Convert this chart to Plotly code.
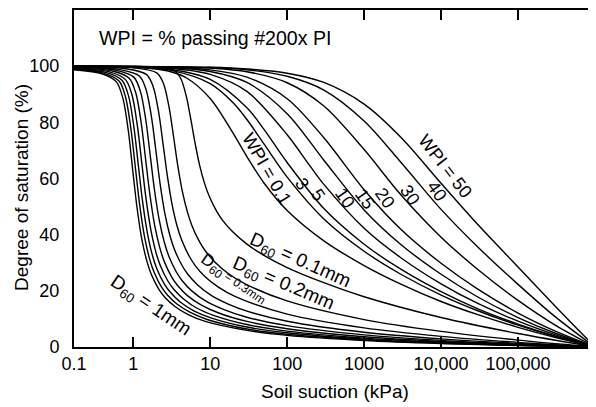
import plotly.graph_objects as go

FONT = "Liberation Sans, Arial, Helvetica, sans-serif"

# ---------------- coarse-grained soils (WPI = 0), by D60 ----------------
d60_1_0_suction = [0.17, 0.4, 0.604, 0.733, 0.863, 0.992, 1.122, 1.294, 1.510, 1.725, 2.157, 2.588, 3.451, 5.176, 8.627, 30, 100, 1000, 1e4, 1e5, 1e6]
d60_1_0_sat = [98.7, 97.2, 94.4, 88.6, 77.0, 62.2, 49.5, 38.3, 30.4, 25.7, 20.5, 17.6, 14.5, 11.5, 9.1, 5.9, 4.15, 2.3, 1.23, 0.52, 0]

d60_0_9_suction = [0.17, 0.4, 0.654, 0.794, 0.934, 1.074, 1.214, 1.401, 1.634, 1.867, 2.334, 2.801, 3.735, 5.602, 9.337, 30, 100, 1000, 1e4, 1e5, 1e6]
d60_0_9_sat = [98.9, 97.6, 94.7, 89.0, 77.6, 63.1, 50.5, 39.3, 31.3, 26.6, 21.3, 18.4, 15.2, 12.2, 9.7, 6.4, 4.56, 2.53, 1.36, 0.57, 0]

d60_0_8_suction = [0.17, 0.45, 0.714, 0.867, 1.020, 1.173, 1.326, 1.530, 1.785, 2.040, 2.550, 3.060, 4.080, 6.121, 10.20, 30, 100, 1000, 1e4, 1e5, 1e6]
d60_0_8_sat = [99.1, 97.7, 95.0, 89.5, 78.3, 64.0, 51.6, 40.5, 32.4, 27.7, 22.3, 19.4, 16.0, 12.9, 10.4, 7.1, 5.05, 2.81, 1.52, 0.64, 0]

d60_0_7_suction = [0.17, 0.5, 0.789, 0.959, 1.128, 1.297, 1.466, 1.692, 1.973, 2.255, 2.819, 3.383, 4.511, 6.766, 11.28, 30, 100, 1000, 1e4, 1e5, 1e6]
d60_0_7_sat = [99.2, 97.9, 95.3, 90.0, 79.1, 65.1, 52.8, 41.8, 33.7, 28.9, 23.5, 20.5, 17.1, 13.8, 11.2, 8.0, 5.67, 3.17, 1.72, 0.73, 0]

d60_0_6_suction = [0.17, 0.55, 0.886, 1.076, 1.266, 1.456, 1.646, 1.899, 2.216, 2.532, 3.165, 3.798, 5.064, 7.597, 12.66, 30, 100, 1000, 1e4, 1e5, 1e6]
d60_0_6_sat = [99.4, 98.2, 95.7, 90.6, 80.0, 66.3, 54.3, 43.3, 35.3, 30.4, 24.9, 21.8, 18.3, 15.0, 12.2, 9.1, 6.49, 3.65, 1.99, 0.85, 0]

d60_0_5_suction = [0.17, 0.6, 1.016, 1.234, 1.452, 1.670, 1.887, 2.178, 2.541, 2.904, 3.630, 4.356, 5.808, 8.711, 14.52, 30, 100, 1000, 1e4, 1e5, 1e6]
d60_0_5_sat = [99.6, 98.5, 96.1, 91.2, 81.1, 67.8, 56.0, 45.2, 37.2, 32.3, 26.7, 23.5, 19.9, 16.4, 13.5, 10.6, 7.59, 4.30, 2.36, 1.01, 0]

d60_0_4_suction = [0.17, 0.7, 1.202, 1.459, 1.717, 1.974, 2.232, 2.575, 3.004, 3.434, 4.292, 5.150, 6.867, 10.30, 17.17, 30, 100, 1000, 1e4, 1e5, 1e6]
d60_0_4_sat = [99.7, 98.7, 96.5, 91.9, 82.3, 69.7, 58.2, 47.6, 39.6, 34.7, 29.1, 25.8, 22.1, 18.4, 15.3, 12.8, 9.19, 5.26, 2.91, 1.26, 0]

d60_0_3_suction = [0.17, 0.8, 1.492, 1.811, 2.131, 2.450, 2.770, 3.196, 3.729, 4.262, 5.327, 6.392, 8.523, 12.78, 21.31, 100, 1000, 1e4, 1e5, 1e6]
d60_0_3_sat = [99.8, 99.1, 97.0, 92.8, 83.9, 72.0, 61.1, 50.8, 42.9, 38.1, 32.4, 29.0, 25.1, 21.3, 17.9, 11.7, 6.80, 3.80, 1.66, 0]

d60_0_2_suction = [0.17, 1.0, 2.022, 2.456, 2.889, 3.323, 3.756, 4.334, 5.056, 5.778, 7.223, 8.668, 11.56, 17.34, 28.89, 100, 1000, 1e4, 1e5, 1e6]
d60_0_2_sat = [99.9, 99.4, 97.6, 94.0, 86.1, 75.4, 65.3, 55.6, 48.1, 43.3, 37.6, 34.2, 30.2, 26.1, 22.4, 16.4, 9.76, 5.55, 2.46, 0]

d60_0_1_suction = [0.17, 1.5, 3.403, 4.133, 4.862, 5.591, 6.321, 7.293, 8.509, 9.724, 12.16, 14.59, 19.45, 29.17, 48.62, 100, 300, 1000, 1e4, 1e5, 1e6]
d60_0_1_sat = [100, 99.7, 98.4, 95.7, 89.6, 81.2, 73.0, 64.7, 58.0, 53.7, 48.3, 45.0, 41.1, 36.9, 32.8, 28.3, 22.9, 17.9, 10.5, 4.79, 0]

# ---------------- plastic soils, by WPI ----------------
wpi_0_1_suction = [0.17, 1, 3, 5, 10, 20, 30, 50, 100, 300, 1000, 3000, 1e4, 3e4, 1e5, 3e5, 1e6]
wpi_0_1_sat = [100, 99.7, 98.1, 95.7, 88.5, 76.0, 67.8, 58.4, 48.6, 37.8, 29.0, 22.4, 16.2, 11.5, 7.0, 3.46, 0]

wpi_3_suction = [0.17, 1, 3, 10, 20, 30, 50, 100, 300, 1000, 3000, 1e4, 3e4, 1e5, 3e5, 1e6]
wpi_3_sat = [100, 99.7, 98.6, 93.8, 86.9, 81.0, 72.3, 60.5, 45.6, 34.1, 25.9, 18.5, 12.9, 7.77, 3.79, 0]

wpi_5_suction = [0.17, 1, 3, 10, 30, 50, 100, 300, 1000, 3000, 1e4, 3e4, 1e5, 3e5, 1e6]
wpi_5_sat = [100, 99.7, 98.9, 95.3, 85.2, 77.5, 65.7, 49.3, 36.6, 27.7, 19.7, 13.6, 8.17, 3.96, 0]

wpi_10_suction = [0.17, 1, 3, 10, 30, 100, 200, 300, 1000, 3000, 1e4, 3e4, 1e5, 3e5, 1e6]
wpi_10_sat = [100, 99.8, 99.3, 97.1, 91.0, 75.6, 64.3, 57.9, 42.3, 31.8, 22.5, 15.5, 9.19, 4.41, 0]

wpi_15_suction = [0.17, 1, 3, 10, 30, 100, 300, 1000, 3000, 1e4, 3e4, 1e5, 3e5, 1e6]
wpi_15_sat = [100, 99.9, 99.5, 98.1, 94.2, 83.1, 66.5, 48.8, 36.5, 25.9, 17.8, 10.5, 4.99, 0]

wpi_20_suction = [0.17, 1, 3, 10, 30, 100, 300, 1000, 3000, 1e4, 3e4, 1e5, 3e5, 1e6]
wpi_20_sat = [100, 99.9, 99.6, 98.7, 96.1, 88.4, 74.5, 56.0, 41.9, 29.8, 20.6, 12.1, 5.76, 0]

wpi_30_suction = [0.17, 3, 10, 30, 100, 300, 1000, 3000, 1e4, 3e4, 1e5, 3e5, 1e6]
wpi_30_sat = [100, 99.8, 99.3, 98.0, 94.1, 85.8, 70.3, 54.2, 39.1, 27.6, 16.6, 7.90, 0]

wpi_40_suction = [0.17, 10, 30, 100, 300, 1000, 3000, 1e4, 3e4, 1e5, 3e5, 1e6]
wpi_40_sat = [100, 99.5, 98.7, 96.4, 91.5, 80.5, 65.8, 49.0, 35.6, 22.3, 10.9, 0]

wpi_50_suction = [0.17, 10, 30, 100, 300, 1000, 3000, 1e4, 3e4, 1e5, 3e5, 1e6]
wpi_50_sat = [100, 99.6, 99.0, 97.5, 94.2, 86.5, 74.7, 58.3, 43.6, 28.5, 14.7, 0]

# ---------------- axes ----------------
x_tick_vals = [0.17, 1, 10, 100, 1000, 1e4, 1e5]
x_tick_text = ["0.1", "1", "10", "100", "1000", "10,000", "100,000"]
y_tick_vals = [0, 20, 40, 60, 80, 100]

curves = [
    (d60_1_0_suction, d60_1_0_sat), (d60_0_9_suction, d60_0_9_sat),
    (d60_0_8_suction, d60_0_8_sat), (d60_0_7_suction, d60_0_7_sat),
    (d60_0_6_suction, d60_0_6_sat), (d60_0_5_suction, d60_0_5_sat),
    (d60_0_4_suction, d60_0_4_sat), (d60_0_3_suction, d60_0_3_sat),
    (d60_0_2_suction, d60_0_2_sat), (d60_0_1_suction, d60_0_1_sat),
    (wpi_0_1_suction, wpi_0_1_sat), (wpi_3_suction, wpi_3_sat),
    (wpi_5_suction, wpi_5_sat), (wpi_10_suction, wpi_10_sat),
    (wpi_15_suction, wpi_15_sat), (wpi_20_suction, wpi_20_sat),
    (wpi_30_suction, wpi_30_sat), (wpi_40_suction, wpi_40_sat),
    (wpi_50_suction, wpi_50_sat),
]

fig = go.Figure()
for xs, ys in curves:
    fig.add_trace(go.Scatter(
        x=xs, y=ys, mode="lines",
        line=dict(color="black", width=1.4, shape="spline", smoothing=0.9),
        showlegend=False, hoverinfo="skip",
    ))

# the page body has an 8px margin, so the figure is laid out 8px smaller
OFF = 8
W, H = 596 - OFF, 407 - OFF
L, R, T, B = 74 - OFF, 1, 8 - OFF, 60
PW, PH = W - L - R, H - T - B


def px(xp, yp):
    # xp, yp are page pixels
    return (xp - OFF - L) / PW, (H - B - (yp - OFF)) / PH


def label(text, xp, yp, size, angle=0, anchor="center"):
    x, y = px(xp, yp)
    fig.add_annotation(
        text=text, x=x, y=y, xref="paper", yref="paper",
        showarrow=False, textangle=angle, xanchor=anchor, yanchor="middle",
        font=dict(family=FONT, size=size, color="black"),
    )


label("WPI = % passing #200x PI", 97, 36, 19.6, 0, "left")
label("WPI = 0.1", 267, 168, 18, 60)
for t, xp, yp in [("3", 302, 183), ("5", 318, 194), ("10", 345, 197),
                  ("15", 365, 198), ("20", 385, 197), ("30", 410, 194),
                  ("40", 437, 190)]:
    label(t, xp, yp, 18, 55)
label("WPI = 50", 445, 165, 18, 52)
label("D<sub>60</sub> = 0.1mm", 300, 260, 19, 24)
label("D<sub>60</sub> = 0.2mm", 283, 284, 19, 23)
label("D<sub>60</sub><span style='font-size:12px'> = 0.3mm</span>", 233, 280, 17, 35)
label("D<sub>60</sub> = 1mm", 150, 306, 19, 34)
label("Degree of saturation (%)", 22, 187, 19, -90)
label("Soil suction (kPa)", 335, 392, 19, 0)

fig.update_layout(
    width=W, height=H,
    margin=dict(l=L, r=R, t=T, b=B, pad=0),
    paper_bgcolor="white", plot_bgcolor="white",
    font=dict(family=FONT, size=18, color="black"),
    xaxis=dict(
        type="log", range=[-0.7696, 6.0],
        tickvals=x_tick_vals, ticktext=x_tick_text,
        ticks="inside", ticklen=10, tickwidth=1.5, tickcolor="black",
        showline=True, linewidth=2, linecolor="black", mirror="ticks",
        showgrid=False, zeroline=False, ticklabelstandoff=-1,
        tickfont=dict(family=FONT, size=18, color="black"),
    ),
    yaxis=dict(
        range=[0, 120], tickvals=y_tick_vals,
        ticks="", showline=True, linewidth=2, linecolor="black",
        showgrid=False, zeroline=False, ticklabelstandoff=9,
        tickfont=dict(family=FONT, size=18, color="black"),
    ),
)

fig.write_html("out.html")
